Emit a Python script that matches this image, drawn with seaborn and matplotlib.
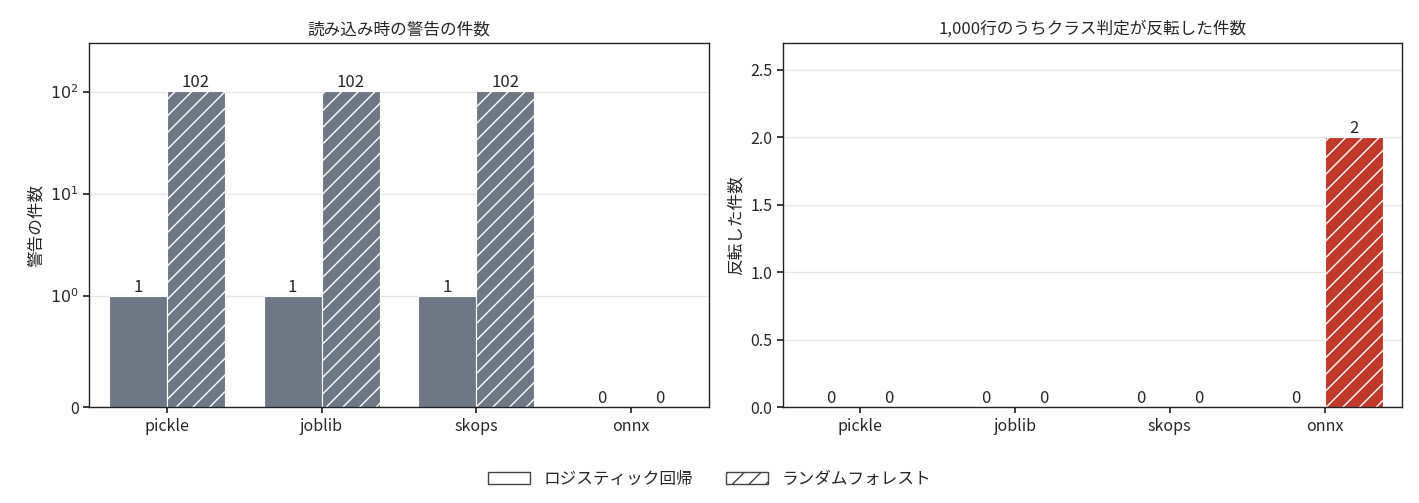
import matplotlib
matplotlib.use("Agg")
import matplotlib.pyplot as plt
import seaborn as sns
import pandas as pd
from matplotlib.patches import Patch

formats = ["pickle", "joblib", "skops", "onnx"]
models = ["ロジスティック回帰", "ランダムフォレスト"]
warn_lr = [1, 1, 1, 0]
warn_rf = [102, 102, 102, 0]
flip_lr = [0, 0, 0, 0]
flip_rf = [0, 0, 0, 2]

sns.set_theme(style="white")
plt.rcParams['font.family'] = ['Noto Sans CJK JP', 'DejaVu Sans']

df_w = pd.DataFrame({"format": formats * 2, "model": [models[0]] * 4 + [models[1]] * 4,
                     "v": warn_lr + warn_rf})
df_f = pd.DataFrame({"format": formats * 2, "model": [models[0]] * 4 + [models[1]] * 4,
                     "v": flip_lr + flip_rf})

fig, axes = plt.subplots(1, 2, figsize=(14.19, 5.03), dpi=100)
gray = "#6a7889"
red = "#c0392b"

for ax, df, title, ylabel in [(axes[0], df_w, "読み込み時の警告の件数", "警告の件数"),
                              (axes[1], df_f, "1,000行のうちクラス判定が反転した件数", "反転した件数")]:
    sns.barplot(data=df, x="format", y="v", hue="model", hue_order=models, ax=ax,
                palette=[gray, gray], edgecolor="white", linewidth=0.8, legend=False,
                errorbar=None, width=0.75)
    for i, cont in enumerate(ax.containers):
        for j, b in enumerate(cont):
            if i == 1:
                b.set_hatch("//")
            if df is df_f and df["v"].iloc[i * 4 + j] > 0:
                b.set_facecolor(red)
            b._hatch_color = matplotlib.colors.to_rgba("white")
        ax.bar_label(cont, labels=[str(v) for v in df["v"].iloc[i * 4:(i + 1) * 4]],
                     fontsize=12, padding=0)
    ax.set_title(title, fontsize=12)
    ax.set_xlabel("")
    ax.set_ylabel(ylabel, fontsize=12)
    ax.tick_params(labelsize=11.5, left=True, bottom=True, length=4)
    ax.yaxis.grid(True, color="#e6e6e6")
    ax.set_axisbelow(True)
    for s in ax.spines.values():
        s.set_color("#222222")
        s.set_linewidth(1)

ax = axes[0]
ax.set_yscale("symlog", linthresh=1, linscale=0.98)
ax.set_ylim(0, 300)
ax.set_yticks([0, 1, 10, 100])
ax.set_yticklabels(["0", "$10^{0}$", "$10^{1}$", "$10^{2}$"])
ax.yaxis.set_minor_locator(matplotlib.ticker.NullLocator())
axes[1].set_ylim(0, 2.7)
axes[1].set_yticks([0, 0.5, 1.0, 1.5, 2.0, 2.5])

handles = [Patch(facecolor="white", edgecolor="#444444", label=models[0]),
           Patch(facecolor="white", edgecolor="#444444", hatch="//", label=models[1])]
fig.legend(handles=handles, loc="lower center", ncol=2, frameon=False, fontsize=12,
           bbox_to_anchor=(0.5, 0.0), handlelength=2.5, columnspacing=2)
fig.subplots_adjust(left=0.063, right=0.988, top=0.915, bottom=0.19, wspace=0.12)
fig.savefig("out.png", dpi=100)
